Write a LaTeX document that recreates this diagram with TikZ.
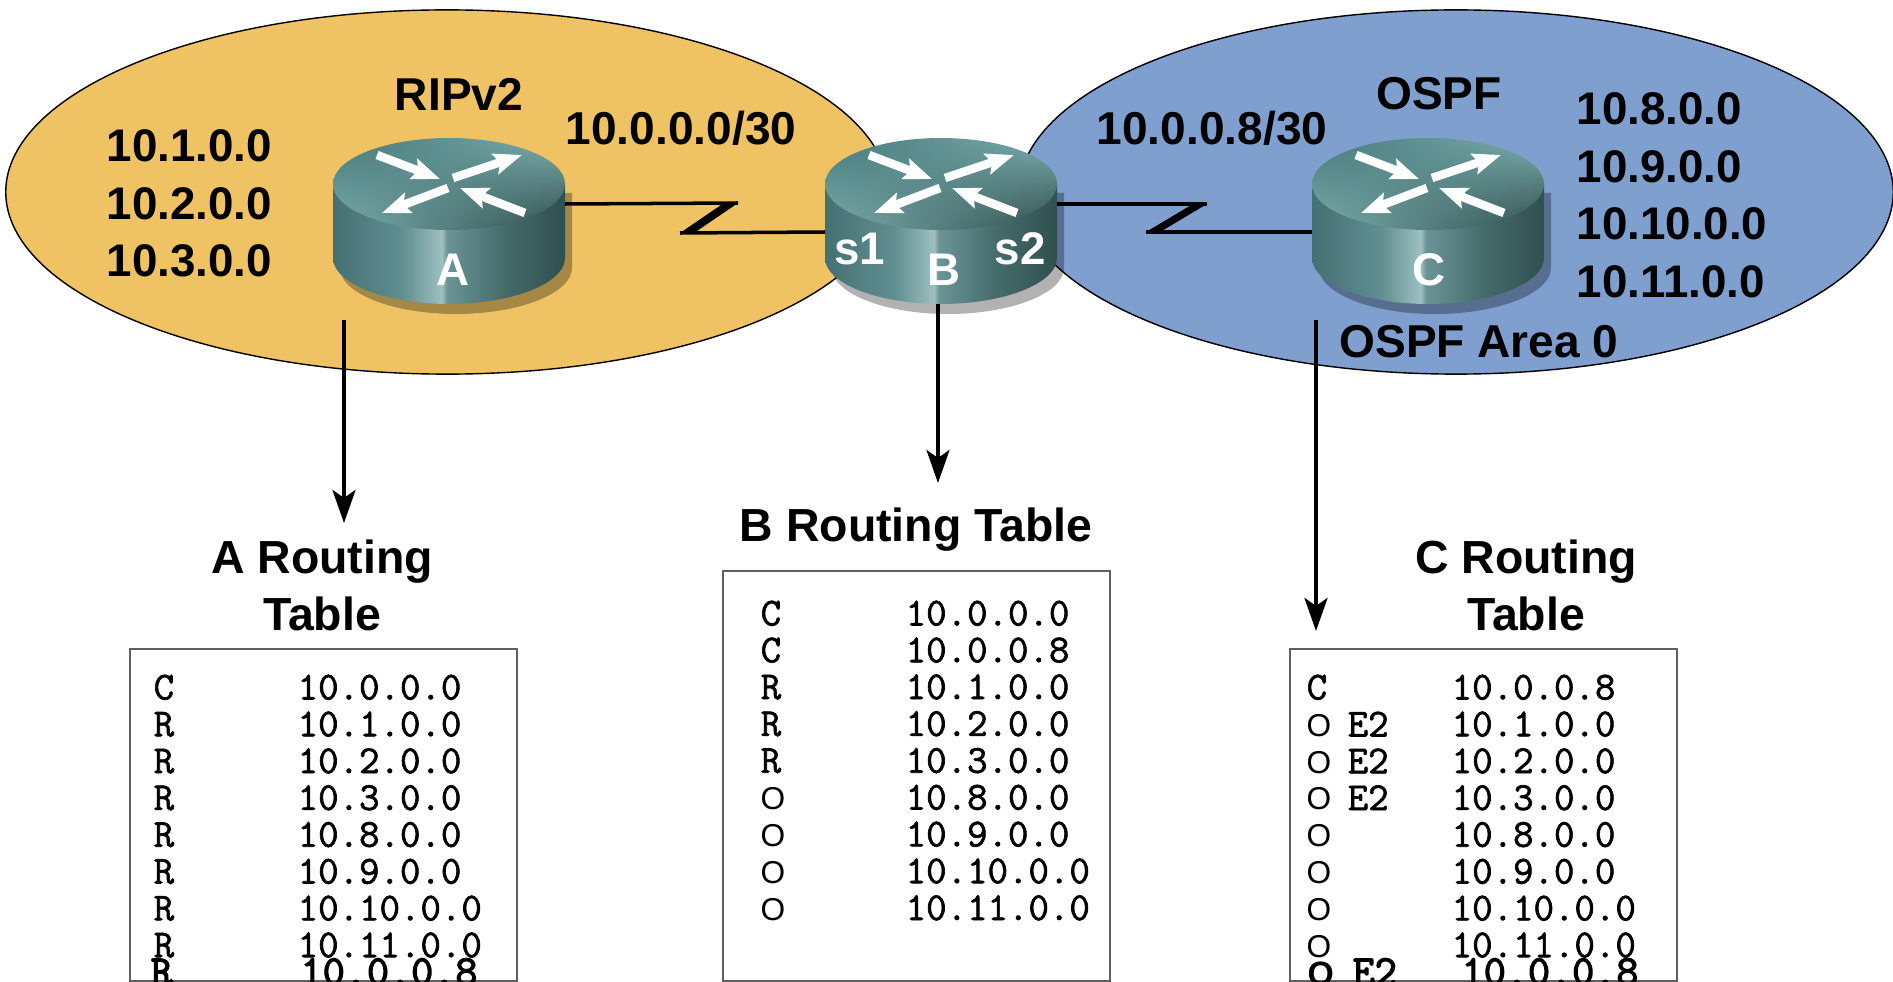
\documentclass[tikz,border=0pt]{standalone}
\usepackage{fontspec}
\setmainfont{Liberation Sans}
\newfontfamily\rowfont[FakeBold=1.6]{Latin Modern Mono}
\newfontfamily\heavyfont[FakeBold=3]{Latin Modern Mono}
\usepackage{xcolor}
\usepackage{tikz}
\usetikzlibrary{arrows.meta,shapes.geometric,shadings}
\definecolor{ripfill}{HTML}{EFC364}
\definecolor{ospffill}{HTML}{7F9FCF}
\definecolor{boxline}{HTML}{606060}
\definecolor{ttopdark}{HTML}{44787A}
\definecolor{ttoplight}{HTML}{7FB0B0}
\definecolor{ttopshade}{HTML}{2C4A49}
\newcommand{\ospfcode}{{\rmfamily\mdseries\fontsize{9}{10.47}\selectfont O}}
\pgfdeclarehorizontalshading{routerside}{100bp}{
  rgb(0bp)=(0.27,0.44,0.45);
  rgb(25bp)=(0.27,0.44,0.45);
  rgb(40bp)=(0.38,0.56,0.57);
  rgb(48.5bp)=(0.62,0.75,0.75);
  rgb(49.5bp)=(0.42,0.58,0.59);
  rgb(62bp)=(0.27,0.42,0.42);
  rgb(75bp)=(0.19,0.31,0.31);
  rgb(100bp)=(0.19,0.31,0.31)}
\tikzset{
  area/.style={ellipse, draw=black, line width=0.4pt, inner sep=0pt},
  zonetag/.style={font=\fontsize{13.1}{13}\bfseries, text=black, inner sep=0pt},
  title/.style={font=\fontsize{13.2}{16.2}\bfseries, text=black, inner sep=0pt, align=center},
  rtrtag/.style={font=\fontsize{13}{13}\bfseries, text=white, inner sep=0pt},
  netlist/.style={font=\fontsize{13}{16.4}\bfseries, text=black, inner sep=0pt, align=left, anchor=north west},
  tablebox/.style={draw=boxline, line width=0.45pt, fill=white, inner sep=0pt},
  rows/.style={font=\fontsize{11.3}{10.47}\rowfont, inner sep=0pt, align=left, anchor=north west},
  lastrow/.style={font=\fontsize{12.2}{12.2}\heavyfont, inner sep=0pt, anchor=base west},
  serial/.style={draw=black, line width=1pt, line join=miter},
  kink/.style={fill=black},
  down/.style={draw=black, line width=1.1pt, -{Stealth[length=0.33cm,width=0.23cm,inset=0.08cm]}},
  flow/.style={draw=white, line width=0.085cm, -{Stealth[length=0.28cm,width=0.21cm,inset=0.05cm]}},
  router/.pic={
    \fill[black, fill opacity=0.3] (-109,9) -- (-109,84)
      .. controls (-109,109) and (-57,130) .. (7,130)
      .. controls (71,130) and (123,109) .. (123,84) -- (123,9) -- cycle;
    \shade[shading=routerside] (-116,0) -- (-116,74)
      .. controls (-116,99) and (-64,120) .. (0,120)
      .. controls (64,120) and (116,99) .. (116,74) -- (116,0) -- cycle;
    \shade[upper left=ttopdark, upper right=ttoplight, lower left=ttoplight, lower right=ttopshade]
      (0,0) ellipse [x radius=116, y radius=46];
    \draw[flow] (-72,-29) -- (-9,-5);
    \draw[flow] (4,-6) -- (73,-29);
    \draw[flow] (-1,4) -- (-67,29);
    \draw[flow] (76,29) -- (11,4);
    \coordinate (-east) at (116,20);
    \coordinate (-west) at (-116,48);
    \coordinate (-south) at (-3,120);
  }
}
\begin{document}
\begin{tikzpicture}[x=0.01cm,y=-0.01cm]
  \useasboundingbox (0,0) rectangle (1893,982);

  % the two routing domains
  \node[area, fill=ripfill, minimum width=8.82cm, minimum height=3.64cm] (ripzone) at (447,192) {};
  \node[area, fill=ospffill, minimum width=8.74cm, minimum height=3.64cm] (ospfzone) at (1456,192) {};

  \pic (rtrA) at (449,184) {router};
  \pic (rtrB) at (941,184) {router};
  \pic (rtrC) at (1428,184) {router};

  \coordinate (bendA) at (738,203);
  \coordinate (kinkA) at (680,233);
  \coordinate (bendC) at (1207,204);
  \coordinate (kinkC) at (1146,232);
  \draw[serial] (rtrA-east) -- (bendA);
  \draw[serial] (kinkA) -- (rtrB-west);
  \fill[kink] (bendA) -- ++(-14,0) -- (kinkA) -- ++(14,0) -- cycle;
  \draw[serial] (rtrB-east) -- (bendC);
  \draw[serial] (kinkC) -- (rtrC-west);
  \fill[kink] (bendC) -- ++(-14,0) -- (kinkC) -- ++(14,0) -- cycle;

  \node[rtrtag] (tagA) at (453,270) {A};
  \node[rtrtag] (tagB) at (944,270) {B};
  \node[rtrtag] (tagC) at (1429,270) {C};
  \node[rtrtag] (tagS1) at (860,249) {s1};
  \node[rtrtag] (tagS2) at (1020,249) {s2};

  \node[zonetag] (ripname) at (459,94) {RIPv2};
  \node[zonetag] (ospfname) at (1439,94) {OSPF};
  \node[zonetag] (linkA) at (681,128) {10.0.0.0/30};
  \node[zonetag] (linkC) at (1212,128) {10.0.0.8/30};
  \node[zonetag] (areaname) at (1479,342) {OSPF Area 0};
  \node[netlist] (netsA) at (106,129) {10.1.0.0\\10.2.0.0\\10.3.0.0};
  \node[netlist] (netsC) at (1576,92) {10.8.0.0\\10.9.0.0\\10.10.0.0\\10.11.0.0};

  % tables, the last row of each runs off the page
  \node[tablebox, minimum width=3.87cm, minimum height=3.32cm] (tableA) at (323.5,815) {};
  \node[tablebox, minimum width=3.87cm, minimum height=4.10cm] (tableB) at (916.5,776) {};
  \node[tablebox, minimum width=3.87cm, minimum height=3.32cm] (tableC) at (1483.5,815) {};

  \node[title] (titleA) at (322,585) {A Routing\\Table};
  \node[title] (titleB) at (916,530) {B Routing Table};
  \node[title] (titleC) at (1526,585) {C Routing\\Table};

  \coordinate (startA) at (344,320);
  \coordinate (endA) at (344,523);
  \coordinate (endB) at (rtrB-south |- 0,483);
  \coordinate (startC) at (1316,320);
  \coordinate (endC) at (1316,631);
  \draw[down] (startA) -- (endA);
  \draw[down] (rtrB-south) -- (endB);
  \draw[down] (startC) -- (endC);

  \node[rows] (codesA) at (153,674) {C\\R\\R\\R\\R\\R\\R\\R};
  \node[rows] (destsA) at (297,674) {10.0.0.0\\10.1.0.0\\10.2.0.0\\10.3.0.0\\10.8.0.0\\10.9.0.0\\10.10.0.0\\10.11.0.0};
  \node[lastrow] (lastcodeA) at (150,985) {R};
  \node[lastrow] (lastdestA) at (300,985) {10.0.0.8};

  \node[rows] (codesB) at (760,600) {C\\C\\R\\R\\R\\\ospfcode\\\ospfcode\\\ospfcode\\\ospfcode};
  \node[rows] (destsB) at (905,600) {10.0.0.0\\10.0.0.8\\10.1.0.0\\10.2.0.0\\10.3.0.0\\10.8.0.0\\10.9.0.0\\10.10.0.0\\10.11.0.0};

  \node[rows] (codesC) at (1306,674) {C\\\ospfcode\\\ospfcode\\\ospfcode\\\ospfcode\\\ospfcode\\\ospfcode\\\ospfcode};
  \node[rows] (extsC) at (1347,711) {E2\\E2\\E2};
  \node[rows] (destsC) at (1451,674) {10.0.0.8\\10.1.0.0\\10.2.0.0\\10.3.0.0\\10.8.0.0\\10.9.0.0\\10.10.0.0\\10.11.0.0};
  \node[lastrow, font=\fontsize{9.6}{10}\bfseries] (lastcodeC) at (1307,985) {O};
  \node[lastrow] (lastextC) at (1352,985) {E2};
  \node[lastrow] (lastdestC) at (1461,985) {10.0.0.8};
\end{tikzpicture}
\end{document}
